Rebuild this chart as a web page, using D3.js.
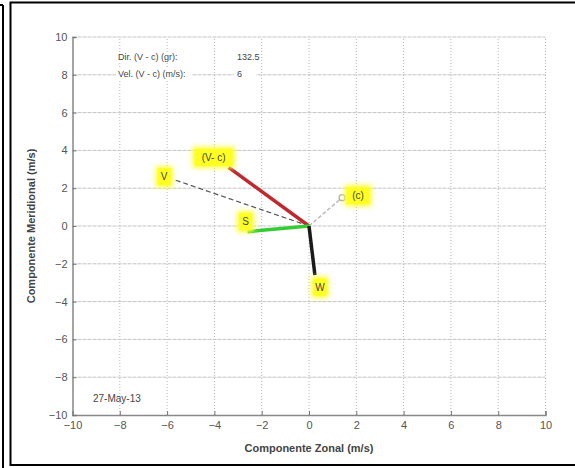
<!DOCTYPE html>
<html>
<head>
<meta charset="utf-8">
<script src="https://cdn.jsdelivr.net/npm/d3@7"></script>
<style>
  html, body { margin: 0; padding: 0; background: #fff; }
</style>
</head>
<body>
<script>
'use strict';

// vectors (m/s): zonal and meridional components
var vecNames  = ["V", "(V- c)", "(c)", "S", "W"];
var vecU      = [-5.7, -3.4, 1.4, -2.6, 0.25];
var vecV      = [2.45, 3.1, 1.5, -0.3, -2.6];
var axisTicks = [-10, -8, -6, -4, -2, 0, 2, 4, 6, 8, 10];
var infoLabels = ["Dir. (V - c) (gr):", "Vel. (V - c) (m/s):"];
var infoValues = ["132.5", "6"];
var dateLabel = "27-May-13";

var W = 575, H = 468;
var svg = d3.select("body").append("svg")
  .attr("width", W).attr("height", H);

var defs = svg.append("defs");
defs.append("filter").attr("id", "glow")
  .attr("x", "-50%").attr("y", "-50%").attr("width", "200%").attr("height", "200%")
  .append("feGaussianBlur").attr("stdDeviation", 2.5);

// frames
svg.append("line").attr("x1", 3).attr("y1", 5).attr("x2", 3).attr("y2", H)
  .attr("stroke", "#000").attr("stroke-width", 2);
svg.append("line").attr("x1", 0).attr("y1", 5).attr("x2", 3).attr("y2", 5)
  .attr("stroke", "#000").attr("stroke-width", 2);
svg.append("path").attr("d", "M577,2.5H10.5V465H577")
  .attr("fill", "none").attr("stroke", "#000").attr("stroke-width", 2);

var x = d3.scaleLinear().domain([-10, 10]).range([72.5, 545.5]);
var y = d3.scaleLinear().domain([-10, 10]).range([415, 37]);

// grid
var grid = svg.append("g");
grid.selectAll(".gx").data(axisTicks.slice(1)).enter().append("line")
  .attr("x1", function(d){ return x(d); }).attr("x2", function(d){ return x(d); })
  .attr("y1", y(-10)).attr("y2", y(10))
  .attr("stroke", "#b5b5b5").attr("stroke-width", 1).attr("stroke-dasharray", "1,2");
grid.selectAll(".gy").data(axisTicks.slice(1)).enter().append("line")
  .attr("y1", function(d){ return y(d); }).attr("y2", function(d){ return y(d); })
  .attr("x1", x(-10)).attr("x2", x(10))
  .attr("stroke", "#c4c4c4").attr("stroke-width", 1).attr("stroke-dasharray", "4,1");

// axes
var xAxis = d3.axisBottom(x).tickValues(axisTicks).tickSize(-4).tickPadding(6)
  .tickFormat(d3.format("d"));
var yAxis = d3.axisLeft(y).tickValues(axisTicks).tickSize(-4).tickPadding(5)
  .tickFormat(d3.format("d"));
var gx = svg.append("g").attr("transform", "translate(0," + y(-10) + ")").call(xAxis);
var gy = svg.append("g").attr("transform", "translate(" + x(-10) + ",0)").call(yAxis);
[gx, gy].forEach(function(g){
  g.select(".domain").attr("stroke", "#888").attr("stroke-width", 1.5);
  g.selectAll(".tick line").attr("stroke", "#777");
  g.selectAll("text").attr("fill", "#555")
    .attr("font-family", "Liberation Sans, Arial, sans-serif").attr("font-size", 11);
});

// info text
var info = svg.append("g").attr("font-family", "Liberation Sans, Arial, sans-serif")
  .attr("font-size", 9).attr("fill", "#444");
infoLabels.forEach(function(t, i){
  var yy = 60 + i * 17;
  info.append("rect").attr("x", 116).attr("y", yy - 8).attr("width", 76).attr("height", 11).attr("fill", "#fff");
  info.append("rect").attr("x", 234).attr("y", yy - 8).attr("width", 22).attr("height", 11).attr("fill", "#fff");
  info.append("text").attr("x", 118).attr("y", yy).text(t);
  info.append("text").attr("x", 237).attr("y", yy).text(infoValues[i]);
});
svg.append("text").attr("x", 93).attr("y", 402)
  .attr("font-family", "Liberation Sans, Arial, sans-serif").attr("font-size", 10)
  .attr("fill", "#444").text(dateLabel);

// vectors
var vecStyle = [
  { color: "#555", width: 1.2, dash: "5,3", dx: -10, dy: -3 },
  { color: "#c0282d", width: 3.5, dash: null, dx: -15, dy: -10 },
  { color: "#bbb", width: 1.5, dash: "4,2", dx: 16, dy: -2 },
  { color: "#33cc33", width: 3.5, dash: null, dx: -2, dy: -10 },
  { color: "#1a1a1a", width: 3.5, dash: null, dx: 5, dy: 12 }
];
var vg = svg.append("g");
vecNames.forEach(function(n, i){
  var s = vecStyle[i];
  var l = vg.append("line")
    .attr("x1", x(0)).attr("y1", y(0))
    .attr("x2", x(vecU[i])).attr("y2", y(vecV[i]))
    .attr("stroke", s.color).attr("stroke-width", s.width);
  if (s.dash) l.attr("stroke-dasharray", s.dash);
});
vg.append("circle").attr("cx", x(vecU[2])).attr("cy", y(vecV[2])).attr("r", 3)
  .attr("fill", "#fff").attr("stroke", "#aaa").attr("stroke-width", 1.2);

// labels
var lg = svg.append("g").attr("font-family", "Liberation Sans, Arial, sans-serif")
  .attr("font-size", 10);
vecNames.forEach(function(n, i){
  var s = vecStyle[i];
  var cx = x(vecU[i]) + s.dx, cy = y(vecV[i]) + s.dy;
  var w = n.length * 5 + 8, h = 17;
  lg.append("rect").attr("x", cx - w / 2 - 2).attr("y", cy - h / 2 - 2)
    .attr("width", w + 4).attr("height", h + 4).attr("fill", "#ffff33")
    .attr("filter", "url(#glow)");
  lg.append("rect").attr("x", cx - w / 2).attr("y", cy - h / 2)
    .attr("width", w).attr("height", h).attr("fill", "#ffff22");
  lg.append("text").attr("x", cx).attr("y", cy + 3.5).attr("text-anchor", "middle")
    .attr("fill", "#444").text(n);
});

// axis titles
svg.append("text").attr("x", x(0)).attr("y", 452).attr("text-anchor", "middle")
  .attr("font-family", "Liberation Sans, Arial, sans-serif").attr("font-size", 11)
  .attr("font-weight", "bold").attr("fill", "#444").text("Componente Zonal (m/s)");
svg.append("text").attr("transform", "translate(35," + y(0) + ") rotate(-90)")
  .attr("text-anchor", "middle")
  .attr("font-family", "Liberation Sans, Arial, sans-serif").attr("font-size", 11)
  .attr("font-weight", "bold").attr("fill", "#444").text("Componente Meridional (m/s)");
</script>
</body>
</html>
